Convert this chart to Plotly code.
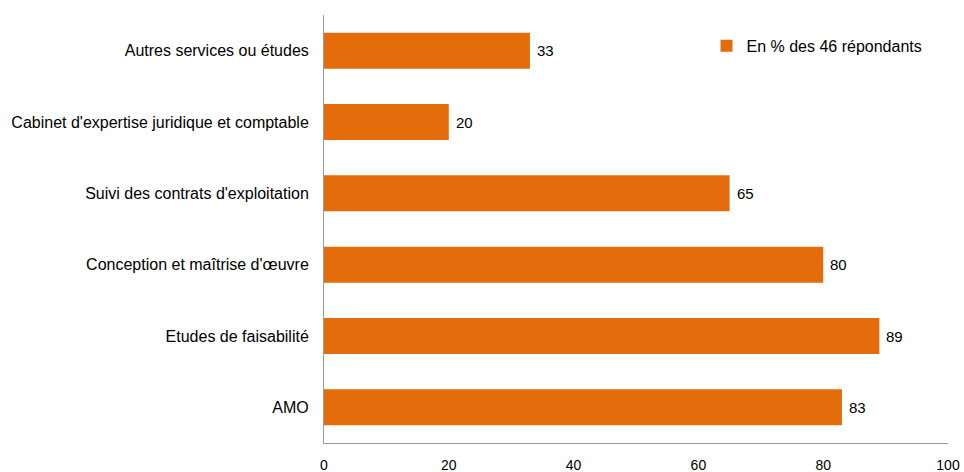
import plotly.graph_objects as go

categories = ["AMO", "Etudes de faisabilité", "Conception et maîtrise d'œuvre",
              "Suivi des contrats d'exploitation",
              "Cabinet d'expertise juridique et comptable", "Autres services ou études"]
values = [83, 89, 80, 65, 20, 33]
series_name = "En % des 46 répondants"
x_ticks = [0, 20, 40, 60, 80, 100]

ORANGE = "#E46C0A"
FONT = "Liberation Sans, Arial, sans-serif"

fig = go.Figure()
fig.add_trace(go.Bar(
    x=values, y=categories, orientation="h", name=series_name,
    marker=dict(color=ORANGE, line=dict(width=0)), width=0.505,
    showlegend=True,
))
for c, v in zip(categories, values):
    fig.add_annotation(x=v, y=c, text=str(v), showarrow=False, xanchor="left",
                       xshift=5, font=dict(family=FONT, size=15, color="#000"))

fig.update_layout(
    width=964, height=472,
    margin=dict(l=324, r=16, t=15, b=29),
    paper_bgcolor="white", plot_bgcolor="white",
    font=dict(family=FONT, size=14, color="#000"),
    legend=dict(x=0.613, y=0.928, xanchor="left", yanchor="middle",
                bgcolor="rgba(0,0,0,0)", font=dict(size=16)),
    xaxis=dict(range=[0, 100], tickvals=x_ticks, showgrid=False, zeroline=False,
               showline=True, linecolor="#999", linewidth=1, ticks="outside",
               ticklen=9, tickcolor="rgba(0,0,0,0)", automargin=False,
               tickfont=dict(size=14)),
    yaxis=dict(showgrid=False, showline=True, linecolor="#999", linewidth=1,
               ticks="outside", ticklen=11, tickcolor="rgba(0,0,0,0)",
               automargin=False, tickfont=dict(size=16)),
)
fig.write_html("out.html", config={"displayModeBar": False},
               post_script="document.body.style.margin='0px';")
